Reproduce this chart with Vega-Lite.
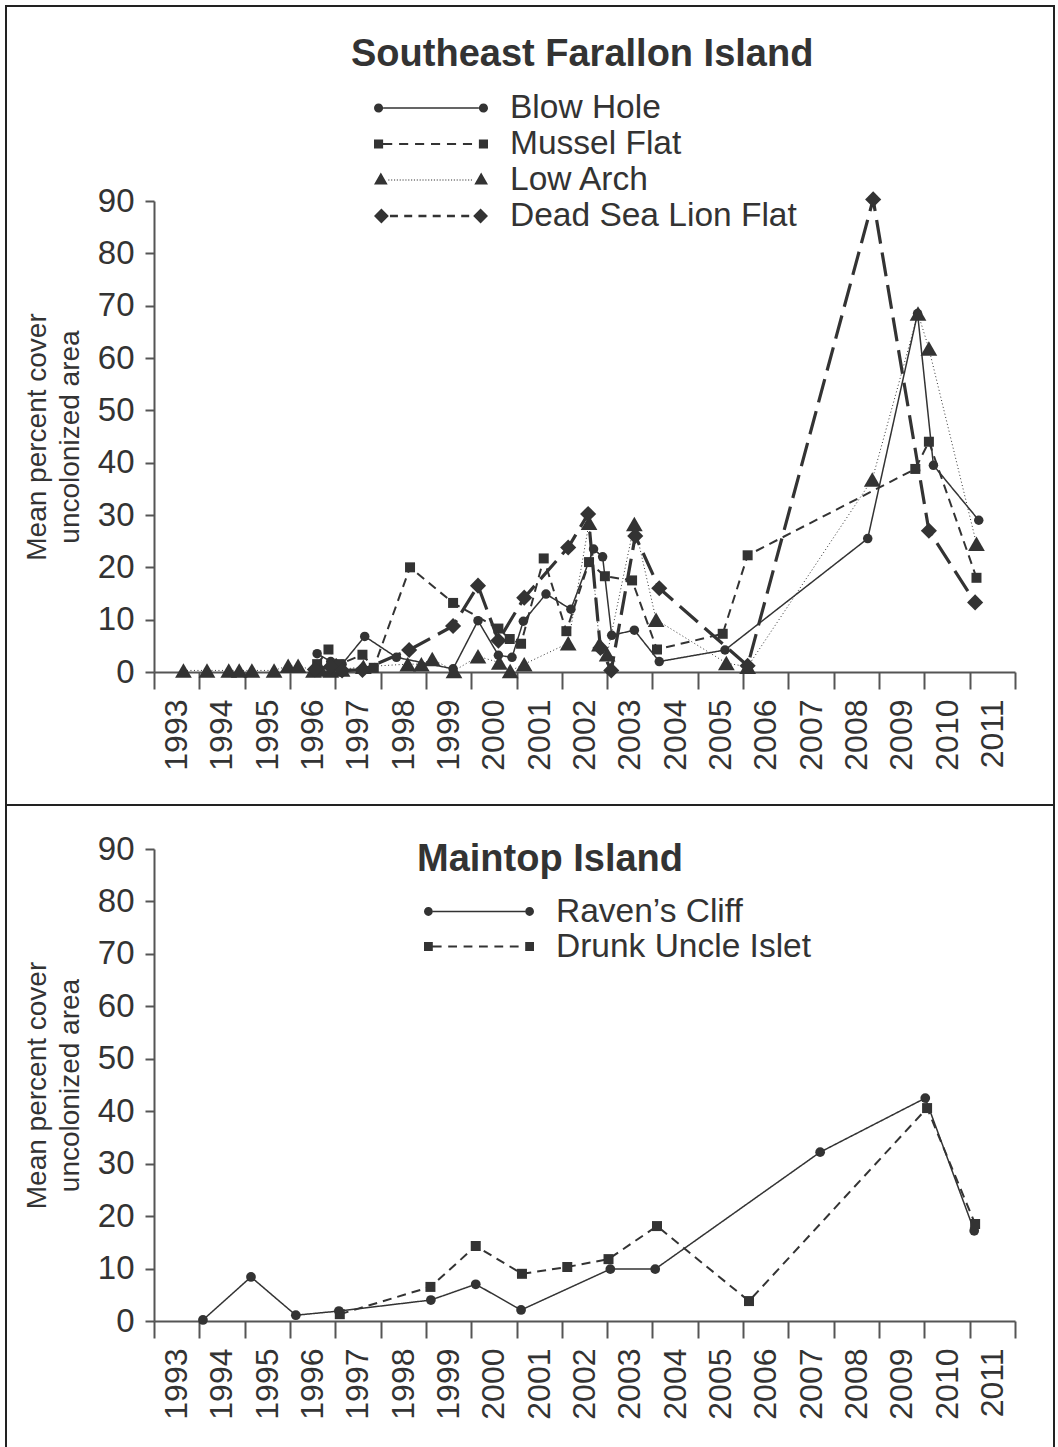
{
  "$schema": "https://vega.github.io/schema/vega-lite/v6.json",
  "background": "white",
  "padding": 5,
  "spacing": 0,
  "bounds": "flush",
  "datasets": {
    "se": [
      {"site":"Blow Hole","year":1996.6,"value":3.5},{"site":"Blow Hole","year":1996.9,"value":2.0},{"site":"Blow Hole","year":1997.15,"value":1.5},{"site":"Blow Hole","year":1997.65,"value":6.8},{"site":"Blow Hole","year":1998.35,"value":2.8},{"site":"Blow Hole","year":1999.6,"value":0.6},{"site":"Blow Hole","year":2000.15,"value":9.8},{"site":"Blow Hole","year":2000.6,"value":3.2},{"site":"Blow Hole","year":2000.9,"value":2.8},{"site":"Blow Hole","year":2001.15,"value":9.7},{"site":"Blow Hole","year":2001.65,"value":14.9},{"site":"Blow Hole","year":2002.2,"value":12.0},{"site":"Blow Hole","year":2002.7,"value":23.5},{"site":"Blow Hole","year":2002.9,"value":22.0},{"site":"Blow Hole","year":2003.1,"value":7.0},{"site":"Blow Hole","year":2003.6,"value":8.0},{"site":"Blow Hole","year":2004.15,"value":2.0},{"site":"Blow Hole","year":2005.6,"value":4.2},{"site":"Blow Hole","year":2008.75,"value":25.5},{"site":"Blow Hole","year":2009.85,"value":68.5},{"site":"Blow Hole","year":2010.2,"value":39.5},{"site":"Blow Hole","year":2011.2,"value":29.0},
      {"site":"Mussel Flat","year":1996.6,"value":1.5},{"site":"Mussel Flat","year":1996.85,"value":4.3},{"site":"Mussel Flat","year":1997.1,"value":1.5},{"site":"Mussel Flat","year":1997.6,"value":3.3},{"site":"Mussel Flat","year":1997.85,"value":0.8},{"site":"Mussel Flat","year":1998.65,"value":20.0},{"site":"Mussel Flat","year":1999.6,"value":13.2},{"site":"Mussel Flat","year":2000.6,"value":8.3},{"site":"Mussel Flat","year":2000.85,"value":6.3},{"site":"Mussel Flat","year":2001.1,"value":5.4},{"site":"Mussel Flat","year":2001.6,"value":21.7},{"site":"Mussel Flat","year":2002.1,"value":7.8},{"site":"Mussel Flat","year":2002.6,"value":21.0},{"site":"Mussel Flat","year":2002.95,"value":18.3},{"site":"Mussel Flat","year":2003.55,"value":17.5},{"site":"Mussel Flat","year":2004.1,"value":4.3},{"site":"Mussel Flat","year":2005.55,"value":7.3},{"site":"Mussel Flat","year":2006.1,"value":22.3},{"site":"Mussel Flat","year":2009.8,"value":38.8},{"site":"Mussel Flat","year":2010.1,"value":44.0},{"site":"Mussel Flat","year":2011.15,"value":18.0},
      {"site":"Low Arch","year":1993.65,"value":0.3},{"site":"Low Arch","year":1994.17,"value":0.3},{"site":"Low Arch","year":1994.65,"value":0.3},{"site":"Low Arch","year":1994.88,"value":0.3},{"site":"Low Arch","year":1995.16,"value":0.3},{"site":"Low Arch","year":1995.65,"value":0.3},{"site":"Low Arch","year":1995.96,"value":1.2},{"site":"Low Arch","year":1996.18,"value":1.2},{"site":"Low Arch","year":1996.52,"value":0.3},{"site":"Low Arch","year":1996.68,"value":0.5},{"site":"Low Arch","year":1996.9,"value":0.3},{"site":"Low Arch","year":1997.15,"value":0.5},{"site":"Low Arch","year":1997.62,"value":1.0},{"site":"Low Arch","year":1998.6,"value":1.5},{"site":"Low Arch","year":1998.9,"value":1.5},{"site":"Low Arch","year":1999.14,"value":2.5},{"site":"Low Arch","year":1999.62,"value":0.2},{"site":"Low Arch","year":2000.15,"value":3.0},{"site":"Low Arch","year":2000.62,"value":1.8},{"site":"Low Arch","year":2000.86,"value":0.2},{"site":"Low Arch","year":2001.17,"value":1.5},{"site":"Low Arch","year":2002.14,"value":5.5},{"site":"Low Arch","year":2002.6,"value":28.5},{"site":"Low Arch","year":2002.83,"value":5.3},{"site":"Low Arch","year":2003.0,"value":3.4},{"site":"Low Arch","year":2003.6,"value":28.3},{"site":"Low Arch","year":2004.08,"value":10.0},{"site":"Low Arch","year":2005.63,"value":1.7},{"site":"Low Arch","year":2006.1,"value":1.0},{"site":"Low Arch","year":2008.85,"value":36.8},{"site":"Low Arch","year":2009.86,"value":68.5},{"site":"Low Arch","year":2010.1,"value":61.8},{"site":"Low Arch","year":2011.15,"value":24.5},
      {"site":"Dead Sea Lion Flat","year":1996.55,"value":0.5},{"site":"Dead Sea Lion Flat","year":1996.9,"value":1.0},{"site":"Dead Sea Lion Flat","year":1997.15,"value":0.3},{"site":"Dead Sea Lion Flat","year":1997.6,"value":0.4},{"site":"Dead Sea Lion Flat","year":1998.63,"value":4.2},{"site":"Dead Sea Lion Flat","year":1999.6,"value":8.8},{"site":"Dead Sea Lion Flat","year":2000.15,"value":16.5},{"site":"Dead Sea Lion Flat","year":2000.6,"value":6.0},{"site":"Dead Sea Lion Flat","year":2001.17,"value":14.2},{"site":"Dead Sea Lion Flat","year":2002.14,"value":23.8},{"site":"Dead Sea Lion Flat","year":2002.58,"value":30.2},{"site":"Dead Sea Lion Flat","year":2002.85,"value":4.6},{"site":"Dead Sea Lion Flat","year":2003.09,"value":0.3},{"site":"Dead Sea Lion Flat","year":2003.62,"value":26.0},{"site":"Dead Sea Lion Flat","year":2004.15,"value":16.0},{"site":"Dead Sea Lion Flat","year":2006.1,"value":1.2},{"site":"Dead Sea Lion Flat","year":2008.87,"value":90.3},{"site":"Dead Sea Lion Flat","year":2010.1,"value":27.0},{"site":"Dead Sea Lion Flat","year":2011.12,"value":13.3}
    ],
    "mt": [
      {"site":"Raven’s Cliff","year":1994.08,"value":0.2},{"site":"Raven’s Cliff","year":1995.14,"value":8.4},{"site":"Raven’s Cliff","year":1996.13,"value":1.1},{"site":"Raven’s Cliff","year":1997.08,"value":1.9},{"site":"Raven’s Cliff","year":1999.11,"value":4.0},{"site":"Raven’s Cliff","year":2000.1,"value":7.0},{"site":"Raven’s Cliff","year":2001.1,"value":2.1},{"site":"Raven’s Cliff","year":2003.07,"value":9.9},{"site":"Raven’s Cliff","year":2004.06,"value":9.9},{"site":"Raven’s Cliff","year":2007.7,"value":32.2},{"site":"Raven’s Cliff","year":2010.02,"value":42.5},{"site":"Raven’s Cliff","year":2011.1,"value":17.2},
      {"site":"Drunk Uncle Islet","year":1997.1,"value":1.3},{"site":"Drunk Uncle Islet","year":1999.1,"value":6.5},{"site":"Drunk Uncle Islet","year":2000.1,"value":14.3},{"site":"Drunk Uncle Islet","year":2001.12,"value":9.0},{"site":"Drunk Uncle Islet","year":2002.12,"value":10.3},{"site":"Drunk Uncle Islet","year":2003.03,"value":11.8},{"site":"Drunk Uncle Islet","year":2004.1,"value":18.1},{"site":"Drunk Uncle Islet","year":2006.13,"value":3.8},{"site":"Drunk Uncle Islet","year":2010.06,"value":40.6},{"site":"Drunk Uncle Islet","year":2011.12,"value":18.5}
    ]
  },
  "vconcat": [
    {
      "width": 1048,
      "height": 799,
      "data": {"name": "se"},
      "encoding": {
        "x": {
          "field": "year", "type": "quantitative",
          "scale": {"domain": [1993, 2012], "range": [148, 1009], "nice": false, "zero": false},
          "axis": {"values": [1993,1994,1995,1996,1997,1998,1999,2000,2001,2002,2003,2004,2005,2006,2007,2008,2009,2010,2011,2012], "format": "d", "labelExpr": "datum.value >= 2012 ? '' : datum.label", "labelAngle": 270, "labelAlign": "right", "labelBaseline": "middle", "labelOffset": 22.65, "labelFontSize": 32, "labelPadding": 10, "tickSize": 17, "labelFlush": false, "labelOverlap": false, "labelBound": false, "labelLimit": 400, "title": null, "offset": -133, "grid": false}
        },
        "y": {
          "field": "value", "type": "quantitative",
          "scale": {"domain": [0, 90], "range": [666, 195], "nice": false},
          "axis": {"values": [0,10,20,30,40,50,60,70,80,90], "tickSize": 9, "labelFontSize": 33, "labelPadding": 11, "labelFlush": false, "labelOverlap": false, "title": ["Mean percent cover", "uncolonized area"], "titleFontSize": 28, "titleFontWeight": "normal", "titleLineHeight": 33, "titlePadding": 13, "offset": -148, "grid": false}
        }
      },
      "layer": [
        {
          "mark": {"type": "line", "color": "#333333"},
          "encoding": {
            "detail": {"field": "site"},
            "strokeDash": {"condition": [{"test": "datum.site === 'Mussel Flat'", "value": [9, 6]}, {"test": "datum.site === 'Low Arch'", "value": [1, 2.5]}, {"test": "datum.site === 'Dead Sea Lion Flat'", "value": [24, 9]}], "value": [1, 0]},
            "strokeWidth": {"condition": [{"test": "datum.site === 'Mussel Flat'", "value": 2}, {"test": "datum.site === 'Low Arch'", "value": 1}, {"test": "datum.site === 'Dead Sea Lion Flat'", "value": 3.2}], "value": 1.5}
          }
        },
        {
          "mark": {"type": "point", "filled": true, "opacity": 1, "color": "#333333"},
          "encoding": {
            "shape": {"condition": [{"test": "datum.site === 'Mussel Flat'", "value": "square"}, {"test": "datum.site === 'Low Arch'", "value": "triangle-up"}, {"test": "datum.site === 'Dead Sea Lion Flat'", "value": "diamond"}], "value": "circle"},
            "size": {"condition": [{"test": "datum.site === 'Mussel Flat'", "value": 100}, {"test": "datum.site === 'Low Arch'", "value": 280}, {"test": "datum.site === 'Dead Sea Lion Flat'", "value": 260}], "value": 90}
          }
        },
        {
          "transform": [{"filter": "false"}],
          "mark": {"type": "point", "filled": true, "opacity": 1, "color": "#333333"},
          "encoding": {
            "shape": {
              "field": "site", "type": "nominal",
              "scale": {"domain": ["Blow Hole", "Mussel Flat", "Low Arch", "Dead Sea Lion Flat"], "range": [
                "M-0.84,-0.013L0.84,-0.013L0.84,0.013L-0.84,0.013Z M-1,0A0.08,0.08 0 1,0 -0.84,0A0.08,0.08 0 1,0 -1,0Z M0.84,0A0.08,0.08 0 1,0 1,0A0.08,0.08 0 1,0 0.84,0Z",
                "M-1,-0.08L-0.84,-0.08L-0.84,0.08L-1,0.08Z M0.84,-0.08L1,-0.08L1,0.08L0.84,0.08Z M-0.84,-0.018L-0.68,-0.018L-0.68,0.018L-0.84,0.018Z M-0.56,-0.018L-0.4,-0.018L-0.4,0.018L-0.56,0.018Z M-0.28,-0.018L-0.12,-0.018L-0.12,0.018L-0.28,0.018Z M0,-0.018L0.16,-0.018L0.16,0.018L0,0.018Z M0.28,-0.018L0.44,-0.018L0.44,0.018L0.28,0.018Z M0.56,-0.018L0.72,-0.018L0.72,0.018L0.56,0.018Z",
                "M-0.75,-0.01L-0.73,-0.01L-0.73,0.01L-0.75,0.01Z M-0.7,-0.01L-0.68,-0.01L-0.68,0.01L-0.7,0.01Z M-0.65,-0.01L-0.63,-0.01L-0.63,0.01L-0.65,0.01Z M-0.6,-0.01L-0.58,-0.01L-0.58,0.01L-0.6,0.01Z M-0.55,-0.01L-0.53,-0.01L-0.53,0.01L-0.55,0.01Z M-0.5,-0.01L-0.48,-0.01L-0.48,0.01L-0.5,0.01Z M-0.45,-0.01L-0.43,-0.01L-0.43,0.01L-0.45,0.01Z M-0.4,-0.01L-0.38,-0.01L-0.38,0.01L-0.4,0.01Z M-0.35,-0.01L-0.33,-0.01L-0.33,0.01L-0.35,0.01Z M-0.3,-0.01L-0.28,-0.01L-0.28,0.01L-0.3,0.01Z M-0.25,-0.01L-0.23,-0.01L-0.23,0.01L-0.25,0.01Z M-0.2,-0.01L-0.18,-0.01L-0.18,0.01L-0.2,0.01Z M-0.15,-0.01L-0.13,-0.01L-0.13,0.01L-0.15,0.01Z M-0.1,-0.01L-0.08,-0.01L-0.08,0.01L-0.1,0.01Z M-0.05,-0.01L-0.03,-0.01L-0.03,0.01L-0.05,0.01Z M0,-0.01L0.02,-0.01L0.02,0.01L0,0.01Z M0.05,-0.01L0.07,-0.01L0.07,0.01L0.05,0.01Z M0.1,-0.01L0.12,-0.01L0.12,0.01L0.1,0.01Z M0.15,-0.01L0.17,-0.01L0.17,0.01L0.15,0.01Z M0.2,-0.01L0.22,-0.01L0.22,0.01L0.2,0.01Z M0.25,-0.01L0.27,-0.01L0.27,0.01L0.25,0.01Z M0.3,-0.01L0.32,-0.01L0.32,0.01L0.3,0.01Z M0.35,-0.01L0.37,-0.01L0.37,0.01L0.35,0.01Z M0.4,-0.01L0.42,-0.01L0.42,0.01L0.4,0.01Z M0.45,-0.01L0.47,-0.01L0.47,0.01L0.45,0.01Z M0.5,-0.01L0.52,-0.01L0.52,0.01L0.5,0.01Z M0.55,-0.01L0.57,-0.01L0.57,0.01L0.55,0.01Z M0.6,-0.01L0.62,-0.01L0.62,0.01L0.6,0.01Z M0.65,-0.01L0.67,-0.01L0.67,0.01L0.65,0.01Z M0.7,-0.01L0.72,-0.01L0.72,0.01L0.7,0.01Z M-1,0.08L-0.76,0.08L-0.88,-0.13Z M0.76,0.08L1,0.08L0.88,-0.13Z",
                "M-1,0L-0.87,-0.13L-0.74,0L-0.87,0.13Z M0.74,0L0.87,-0.13L1,0L0.87,0.13Z M-0.72,-0.02L-0.58,-0.02L-0.58,0.02L-0.72,0.02Z M-0.47,-0.02L-0.33,-0.02L-0.33,0.02L-0.47,0.02Z M-0.22,-0.02L-0.08,-0.02L-0.08,0.02L-0.22,0.02Z M0.03,-0.02L0.17,-0.02L0.17,0.02L0.03,0.02Z M0.28,-0.02L0.42,-0.02L0.42,0.02L0.28,0.02Z M0.53,-0.02L0.67,-0.02L0.67,0.02L0.53,0.02Z"
              ]},
              "legend": {
                "orient": "none", "legendX": 345, "legendY": 30, "direction": "vertical",
                "title": "Southeast Farallon Island", "titleFontSize": 38, "titleFontWeight": "bold", "titleColor": "#333333", "titlePadding": 16, "titleLimit": 900, "titleAnchor": "start",
                "labelFontSize": 33.5, "labelColor": "#333333", "labelLimit": 900, "labelOffset": 22,
                "symbolSize": 12996, "symbolOffset": 23, "clipHeight": 36, "rowPadding": 0, "padding": 0,
                "symbolStrokeWidth": 0, "symbolFillColor": "#333333", "symbolOpacity": 1
              }
            }
          }
        }
      ]
    },
    {
      "width": 1048,
      "height": 648,
      "data": {"name": "mt"},
      "encoding": {
        "x": {
          "field": "year", "type": "quantitative",
          "scale": {"domain": [1993, 2012], "range": [148, 1009], "nice": false, "zero": false},
          "axis": {"values": [1993,1994,1995,1996,1997,1998,1999,2000,2001,2002,2003,2004,2005,2006,2007,2008,2009,2010,2011,2012], "format": "d", "labelExpr": "datum.value >= 2012 ? '' : datum.label", "labelAngle": 270, "labelAlign": "right", "labelBaseline": "middle", "labelOffset": 22.65, "labelFontSize": 32, "labelPadding": 10, "tickSize": 17, "labelFlush": false, "labelOverlap": false, "labelBound": false, "labelLimit": 400, "title": null, "offset": -132, "grid": false}
        },
        "y": {
          "field": "value", "type": "quantitative",
          "scale": {"domain": [0, 90], "range": [516, 44], "nice": false},
          "axis": {"values": [0,10,20,30,40,50,60,70,80,90], "tickSize": 9, "labelFontSize": 33, "labelPadding": 11, "labelFlush": false, "labelOverlap": false, "title": ["Mean percent cover", "uncolonized area"], "titleFontSize": 28, "titleFontWeight": "normal", "titleLineHeight": 33, "titlePadding": 13, "offset": -148, "grid": false}
        }
      },
      "layer": [
        {
          "mark": {"type": "line", "color": "#333333"},
          "encoding": {
            "detail": {"field": "site"},
            "strokeDash": {"condition": [{"test": "datum.site === 'Drunk Uncle Islet'", "value": [9, 6]}], "value": [1, 0]},
            "strokeWidth": {"condition": [{"test": "datum.site === 'Drunk Uncle Islet'", "value": 2}], "value": 1.5}
          }
        },
        {
          "mark": {"type": "point", "filled": true, "opacity": 1, "color": "#333333"},
          "encoding": {
            "shape": {"condition": [{"test": "datum.site === 'Drunk Uncle Islet'", "value": "square"}], "value": "circle"},
            "size": {"condition": [{"test": "datum.site === 'Drunk Uncle Islet'", "value": 100}], "value": 95}
          }
        },
        {
          "transform": [{"filter": "false"}],
          "mark": {"type": "point", "filled": true, "opacity": 1, "color": "#333333"},
          "encoding": {
            "shape": {
              "field": "site", "type": "nominal",
              "scale": {"domain": ["Raven’s Cliff", "Drunk Uncle Islet"], "range": [
                "M-0.84,-0.014L0.84,-0.014L0.84,0.014L-0.84,0.014Z M-1,0A0.08,0.08 0 1,0 -0.84,0A0.08,0.08 0 1,0 -1,0Z M0.84,0A0.08,0.08 0 1,0 1,0A0.08,0.08 0 1,0 0.84,0Z",
                "M-1,-0.08L-0.84,-0.08L-0.84,0.08L-1,0.08Z M0.84,-0.08L1,-0.08L1,0.08L0.84,0.08Z M-0.84,-0.018L-0.68,-0.018L-0.68,0.018L-0.84,0.018Z M-0.56,-0.018L-0.4,-0.018L-0.4,0.018L-0.56,0.018Z M-0.28,-0.018L-0.12,-0.018L-0.12,0.018L-0.28,0.018Z M0,-0.018L0.16,-0.018L0.16,0.018L0,0.018Z M0.28,-0.018L0.44,-0.018L0.44,0.018L0.28,0.018Z M0.56,-0.018L0.72,-0.018L0.72,0.018L0.56,0.018Z"
              ]},
              "legend": {
                "orient": "none", "legendX": 411, "legendY": 36, "direction": "vertical",
                "title": "Maintop Island", "titleFontSize": 38, "titleFontWeight": "bold", "titleColor": "#333333", "titlePadding": 15, "titleLimit": 900, "titleAnchor": "start",
                "labelFontSize": 33.5, "labelColor": "#333333", "labelLimit": 900, "labelOffset": 22,
                "symbolSize": 12100, "symbolOffset": 7, "clipHeight": 35, "rowPadding": 0, "padding": 0,
                "symbolStrokeWidth": 0, "symbolFillColor": "#333333", "symbolOpacity": 1
              }
            }
          }
        }
      ]
    }
  ],
  "resolve": {"scale": {"x": "independent", "y": "independent", "shape": "independent"}, "legend": {"shape": "independent"}},
  "config": {
    "font": "Liberation Sans",
    "view": {"stroke": "#222222", "strokeWidth": 2},
    "axis": {"domainColor": "#555555", "tickColor": "#555555", "domainWidth": 2, "tickWidth": 2, "labelColor": "#333333", "titleColor": "#333333", "labelFont": "Liberation Sans", "titleFont": "Liberation Sans", "grid": false},
    "legend": {"labelFont": "Liberation Sans", "titleFont": "Liberation Sans"}
  }
}
